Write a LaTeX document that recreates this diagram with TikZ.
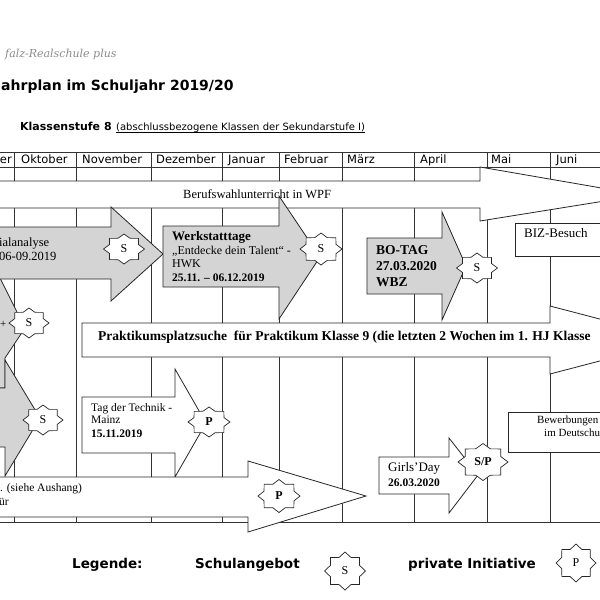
\documentclass[tikz,border=0pt]{standalone}
\usepackage{fontspec}
\setmainfont{Liberation Serif}
\newfontfamily\djs{DejaVu Sans}
\newfontfamily\djserif{DejaVu Serif}
\newcommand\sealnode[6]{%
  \begin{scope}[shift={(#2,#3)}]
    \draw[sealst] (#4,0) \foreach \k [evaluate=\k as \r using {ifthenelse(mod(\k,2)==0,1,0.77)}] in {1,...,15}{ -- ({\k*22.5}:{#4*\r} and {#5*\r}) } -- cycle;
  \end{scope}
  \node[sealtx] (#1) at (#2,#3) {#6};}
\begin{document}
\begin{tikzpicture}[x=1pt,y=-1pt,
  grid/.style={draw=black!80, line width=0.7pt},
  graybox/.style={draw=black!85, fill=black!17, line width=0.8pt},
  whitebox/.style={draw=black!85, fill=white, line width=0.8pt},
  sealst/.style={draw=black!85, fill=white, line width=0.7pt},
  sealtx/.style={inner sep=0pt, font=\fontsize{12}{13}\selectfont},
  tx/.style={inner sep=0pt, anchor=base west, font=\fontsize{11.5}{13}\selectfont},
  txb/.style={inner sep=0pt, anchor=base west, font=\bfseries\fontsize{11.5}{13}\selectfont},
  mon/.style={inner sep=0pt, anchor=base west, font=\djs\fontsize{11.5}{13}\selectfont},
  deco/.style={inner sep=0pt, anchor=base west, font=\djs\bfseries\fontsize{13.5}{15}\selectfont},
]
\useasboundingbox (0,0) rectangle (600,600);
\fill[white] (0,0) rectangle (600,600);
\clip (0,0) rectangle (600,600);

% header
\node[inner sep=0pt, anchor=base west, text=black!45, font=\djserif\itshape\fontsize{11}{13}\selectfont] (school) at (5,57) {falz-Realschule plus};
\node[inner sep=0pt, anchor=base west, font=\djs\bfseries\fontsize{14}{16}\selectfont] (title) at (1,90) {ahrplan im Schuljahr 2019/20};
\node[inner sep=0pt, anchor=base west, font=\djs\bfseries\fontsize{11}{13}\selectfont] (ks) at (20,130) {Klassenstufe 8};
\node[inner sep=0pt, anchor=base west, font=\djs\fontsize{10}{12}\selectfont] (ul) at (116,130) {(abschlussbezogene Klassen der Sekundarstufe I)};
\draw[line width=0.6pt] ([yshift=-2.5pt]ul.base west) -- ([yshift=-2.5pt]ul.base east);

% grid
\foreach \yy in {152,167,522} \draw[grid] (-10,\yy) -- (610,\yy);
\foreach \xx in {14,76,151,222,279,342,414,487,550} \draw[grid] (\xx,152) -- (\xx,522);

% months
\node[inner sep=0pt, anchor=base east, font=\djs\fontsize{11.5}{13}\selectfont] (m9) at (12,163) {er};
\node[mon] (m10) at (21,163) {Oktober};
\node[mon] (m11) at (82,163) {November};
\node[mon] (m12) at (156,163) {Dezember};
\node[mon] (m1) at (228,163) {Januar};
\node[mon] (m2) at (284,163) {Februar};
\node[mon] (m3) at (347,163) {März};
\node[mon] (m4) at (420,163) {April};
\node[mon] (m5) at (491,163) {Mai};
\node[mon] (m6) at (556,163) {Juni};

% Berufswahlunterricht
\draw[whitebox] (-10,181) -- (480,181) -- (480,167) -- (642,195) -- (480,221) -- (480,208) -- (-10,208) -- cycle;
\node[inner sep=0pt, anchor=base west, font=\fontsize{12.5}{14}\selectfont] (bwu) at (183,198.5) {Berufswahlunterricht in WPF};

% left gray arrows
\draw[graybox] (-10,272) -- (-3,272) -- (25,328) -- (5,358) -- (5,388) -- (-10,388) -- cycle;
\node[inner sep=0pt, anchor=base west, font=\fontsize{11}{13}\selectfont] (plus) at (0,327) {+};
\draw[graybox] (-10,388) -- (5,388) -- (5,360) -- (40,418) -- (5,476) -- (5,447) -- (-10,447) -- cycle;
\draw[graybox] (-10,227) -- (111,227) -- (111,207) -- (163,254) -- (111,301) -- (111,279) -- (-10,279) -- cycle;
\node[inner sep=0pt, anchor=base west, font=\fontsize{12.5}{14}\selectfont] (pa1) at (-1,246) {ialanalyse};
\node[inner sep=0pt, anchor=base west, font=\fontsize{12.5}{14}\selectfont] (pa2) at (-1,260) {06-09.2019};

% Werkstatttage
\draw[graybox] (163,226) -- (279,226) -- (279,196) -- (320,257) -- (279,319) -- (279,287) -- (163,287) -- cycle;
\node[inner sep=0pt, anchor=base west, font=\bfseries\fontsize{13}{14}\selectfont] (wt1) at (172,240) {Werkstatttage};
\node[inner sep=0pt, anchor=base west, font=\fontsize{12}{13}\selectfont] (wt2) at (172,254.5) {„Entdecke dein Talent“ -};
\node[inner sep=0pt, anchor=base west, font=\fontsize{12}{13}\selectfont] (wt3) at (172,267) {HWK};
\node[txb] (wt4) at (172,281) {25.11. – 06.12.2019};

% BO-TAG
\draw[graybox] (367,238) -- (442,238) -- (442,212) -- (466,266) -- (442,320) -- (442,294) -- (367,294) -- cycle;
\node[inner sep=0pt, anchor=base west, font=\bfseries\fontsize{13.5}{15}\selectfont] (bo1) at (376,254.5) {BO-TAG};
\node[inner sep=0pt, anchor=base west, font=\bfseries\fontsize{13.5}{15}\selectfont] (bo2) at (376,270.5) {27.03.2020};
\node[inner sep=0pt, anchor=base west, font=\bfseries\fontsize{13.5}{15}\selectfont] (bo3) at (376,286.5) {WBZ};

% BIZ-Besuch
\draw[whitebox] (515,223) rectangle (610,256);
\node[inner sep=0pt, anchor=base west, font=\fontsize{13}{14}\selectfont] (biz) at (524,237.5) {BIZ-Besuch};

% Praktikumsplatzsuche
\draw[whitebox] (82,323) -- (550,323) -- (550,306) -- (680,340) -- (550,374) -- (550,357) -- (82,357) -- cycle;
\node[inner sep=0pt, anchor=base west, font=\bfseries\fontsize{13.5}{15}\selectfont] (prak) at (98,340) {Praktikumsplatzsuche\ \ für Praktikum Klasse 9 (die letzten 2 Wochen im 1. HJ Klasse};

% Tag der Technik
\draw[whitebox] (82,397) -- (175,397) -- (175,369) -- (206,423) -- (175,477) -- (175,453) -- (82,453) -- cycle;
\node[tx] (tt1) at (91,411) {Tag der Technik -};
\node[tx] (tt2) at (91,423) {Mainz};
\node[txb] (tt3) at (91,437) {15.11.2019};

% Girls'Day
\draw[whitebox] (379,457) -- (449,457) -- (449,438) -- (478,475) -- (449,513) -- (449,494) -- (379,494) -- cycle;
\node[inner sep=0pt, anchor=base west, font=\fontsize{13}{14}\selectfont] (gd1) at (388,471.5) {Girls’Day};
\node[txb] (gd2) at (388,486) {26.03.2020};

% Bewerbungen
\draw[whitebox] (508,412) rectangle (610,452);
\node[inner sep=0pt, anchor=base west, font=\fontsize{11}{12}\selectfont] (bw1) at (537,423) {Bewerbungen};
\node[inner sep=0pt, anchor=base west, font=\fontsize{11}{12}\selectfont] (bw2) at (544,436) {im Deutschu};

% P arrow
\draw[whitebox] (-10,477) -- (248,477) -- (248,461) -- (366,496) -- (248,532) -- (248,517) -- (-10,517) -- cycle;
\node[tx] (pa) at (0,491) {. (siehe Aushang)};
\node[tx] (pb) at (-1,505) {ür};

% seals
\sealnode{sA}{29}{323}{20}{15}{S}
\sealnode{sB}{43}{420}{20}{15}{S}
\sealnode{sPot}{124}{249}{20.5}{15}{S}
\sealnode{sWt}{321}{249}{21}{16}{S}
\sealnode{sBo}{477}{268}{20.5}{15}{S}
\sealnode{sTt}{209}{422}{21}{15}{\textbf{P}}
\sealnode{sGd}{483}{462}{25}{18.5}{\textbf{S/P}}
\sealnode{sP}{279}{496}{21}{16.5}{\textbf{P}}

% legend
\node[deco] (lg) at (72,568) {Legende:};
\node[deco] (ls) at (195,568) {Schulangebot};
\node[deco] (lp) at (408,568) {private Initiative};
\sealnode{lS}{345}{571}{20.5}{19}{S}
\sealnode{lP}{576}{563}{20}{19}{P}
\end{tikzpicture}
\end{document}
